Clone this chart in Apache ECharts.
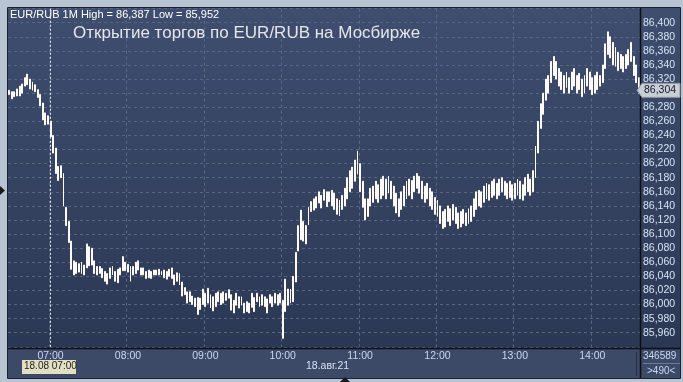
<!DOCTYPE html>
<html><head><meta charset="utf-8">
<script src="https://cdn.jsdelivr.net/npm/echarts@6/dist/echarts.min.js"></script>
<style>html,body{margin:0;padding:0;background:#b9c4d2;}#c{width:683px;height:382px;}</style>
</head><body><div id="c"></div>
<script>
// price = BASE + pips/1000
const BASE = 86;
const lastPrice = 86.304;
const headerText = 'EUR/RUB 1M High = 86,387 Low = 85,952';
const titleText = 'Открытие торгов по EUR/RUB на Мосбирже';
const volumeText = '346589';
const barsText = '>490<';
const dateText = '18.авг.21';
const cursorText = '18.08 07:00';
const cursorTime = '07:00';

// 2-minute bars from 06:28 to 14:36 (lows / highs in thousandths above 86)
const lowPips = [
 298,292,295,296,296,300,310,312,306,304,302,294,282,262,255,256,
 238,215,186,176,180,140,112,88,50,42,44,46,44,42,52,55,56,44,42,44,38,33,29,37,42,33,31,42,48,48,
 46,33,42,44,49,42,42,37,38,37,42,42,42,42,38,36,40,37,28,33,28,12,14,2,4,0,-3,-14,-7,0,
 -3,2,-5,-9,-3,4,0,2,6,9,-8,-12,-1,-5,-1,-12,-10,-12,-4,-10,4,-3,-1,-3,-12,2,-3,2,-1,2,
 -48,-10,-1,2,4,32,76,92,90,86,113,132,134,137,144,137,148,139,146,140,135,128,126,135,140,150,160,165,175,185,
 160,138,120,125,140,145,150,145,150,155,150,158,150,140,130,125,135,140,150,155,150,160,165,158,150,145,150,140,135,128,
 125,115,108,110,118,112,120,115,108,110,115,112,115,118,125,135,140,138,145,150,148,152,155,150,155,160,155,150,152,148,
 150,155,150,148,155,160,155,160,180,215,250,270,290,300,315,325,320,310,305,300,308,300,305,310,300,305,295,300,310,305,
 298,300,305,310,315,335,355,350,340,338,332,335,330,335,340,345,325,315,300
];
const highPips = [
 304,302,302,306,310,313,322,327,320,316,312,305,298,286,272,268,
 260,240,222,196,197,186,138,118,90,62,60,58,60,56,86,82,80,62,54,54,51,47,44,52,54,47,50,52,68,60,
 57,54,54,60,62,52,52,47,49,47,49,49,50,47,49,47,50,52,42,45,44,32,24,18,18,12,9,10,9,22,
 16,23,14,11,16,18,16,18,16,21,14,6,16,11,11,2,4,2,16,10,16,11,14,11,8,14,11,16,14,16,
 6,36,22,22,40,74,112,134,118,112,138,146,150,153,160,155,163,160,160,162,158,150,148,155,165,180,190,195,205,218,
 200,175,150,150,165,168,175,170,178,182,178,182,175,168,158,150,160,168,175,178,176,182,186,182,175,168,172,165,160,152,
 148,140,132,135,140,136,142,138,130,132,135,130,136,140,150,160,162,160,168,172,170,175,178,172,178,180,175,172,175,170,
 172,178,175,170,180,185,178,190,225,260,285,300,320,325,345,352,345,335,330,325,330,322,330,335,325,328,320,325,335,330,
 322,325,330,325,340,370,387,380,372,365,358,355,352,355,362,372,352,340,322
];

const times = [];
for (let m = 6 * 60 + 28; m <= 14 * 60 + 36; m += 2) {
  times.push(String(Math.floor(m / 60)).padStart(2, '0') + ':' + String(m % 60).padStart(2, '0'));
}
const candles = lowPips.map((l, i) => {
  const lo = +(BASE + l / 1000).toFixed(3), hi = +(BASE + highPips[i] / 1000).toFixed(3);
  return [lo, hi, lo, hi];
});

const FONT = 'Arial, "Liberation Sans", sans-serif';
const isHour = (i, v) => /:00$/.test(v);

const chart = echarts.init(document.getElementById('c'), null, {renderer: 'canvas'});
const bg = new echarts.graphic.LinearGradient(0, 0, 0, 1, [
  {offset: 0, color: '#3f4e6f'}, {offset: 1, color: '#2b3854'}
]);
chart.setOption({
  backgroundColor: '#b9c4d2',
  animation: false,
  grid: {left: 8, right: 43, top: 8.6, bottom: 35.2, containLabel: false},
  xAxis: {
    type: 'category', data: times, boundaryGap: true,
    axisLine: {show: false}, axisTick: {show: false},
    axisLabel: {interval: isHour, color: '#c9d8ef', fontSize: 10.5, fontFamily: FONT, margin: 4},
    splitLine: {show: true, interval: isHour, lineStyle: {color: '#5a6985', type: [3, 3], width: 1}}
  },
  yAxis: {
    type: 'value', position: 'right', min: 85.94, max: 86.42, interval: 0.02, scale: true,
    axisLine: {show: false}, axisTick: {show: false},
    axisLabel: {
      formatter: v => v.toFixed(3).replace('.', ','), color: '#d6e3f5', fontSize: 10.5, fontFamily: FONT,
      margin: 3, showMinLabel: false, showMaxLabel: false
    },
    splitLine: {lineStyle: {color: '#56667f', type: [3, 3], width: 1}}
  },
  series: [{
    type: 'candlestick', data: candles, barWidth: 1.4,
    itemStyle: {color: '#ffffff', color0: '#ffffff', borderColor: '#fffaf4', borderColor0: '#fffaf4', borderWidth: 1},
    markLine: {
      silent: true, symbol: 'none', label: {show: false},
      lineStyle: {color: '#e8ecf4', type: [2, 2], width: 1},
      data: [{xAxis: cursorTime}]
    }
  }]
});

const py = chart.convertToPixel({yAxisIndex: 0}, lastPrice);
chart.setOption({
  graphic: [
    {type: 'rect', z: -100, shape: {x: 8, y: 8, width: 672, height: 340}, style: {fill: bg}},
    {type: 'rect', z: -99, shape: {x: 8, y: 348, width: 672, height: 30}, style: {fill: '#3c4967'}},
    {type: 'rect', z: 50, shape: {x: 7.5, y: 7.5, width: 673, height: 371}, style: {fill: null, stroke: '#1b2130', lineWidth: 1}},
    {type: 'line', z: 50, shape: {x1: 640.5, y1: 8, x2: 640.5, y2: 378}, style: {stroke: '#0c0f16', lineWidth: 1.5}},
    {type: 'line', z: 50, shape: {x1: 8, y1: 348.5, x2: 680, y2: 348.5}, style: {stroke: '#0c0f16', lineWidth: 1.5}},
    {type: 'line', z: 50, shape: {x1: 636.5, y1: 352, x2: 636.5, y2: 376}, style: {stroke: '#252d40', lineWidth: 1}},
    {type: 'line', z: 50, shape: {x1: 643, y1: 363.5, x2: 680, y2: 363.5}, style: {stroke: '#6c7a96', lineWidth: 1}},
    {type: 'text', z: 60, left: 10, top: 9, style: {text: headerText, fill: '#ffffff', font: '11px ' + FONT}},
    {type: 'text', z: 60, left: 73, top: 25, style: {text: titleText, fill: '#e4e6ea', font: '17px ' + FONT}},
    {type: 'polygon', z: 70, shape: {points: [[637, py], [642, py - 7], [680, py - 7], [680, py + 7], [642, py + 7]]},
      style: {fill: '#c9ced6', stroke: '#8e96a4', lineWidth: 1}},
    {type: 'text', z: 71, left: 644, top: py - 6, style: {text: lastPrice.toFixed(3).replace('.', ','), fill: '#141a28', font: '10.5px ' + FONT}},
    {type: 'rect', z: 70, shape: {x: 22, y: 360, width: 54, height: 14}, style: {fill: '#e2dfc2'}},
    {type: 'text', z: 71, left: 24, top: 361.5, style: {text: cursorText, fill: '#1c1c1c', font: '10px ' + FONT}},
    {type: 'text', z: 60, left: 306, top: 361, style: {text: dateText, fill: '#d6e1f2', font: '10.5px ' + FONT}},
    {type: 'text', z: 60, left: 643, top: 351, style: {text: volumeText, fill: '#c9d8ef', font: '10px ' + FONT}},
    {type: 'text', z: 60, left: 647, top: 366, style: {text: barsText, fill: '#c9d8ef', font: '10px ' + FONT}},
    {type: 'polygon', z: 60, shape: {points: [[0, 186], [5, 190.5], [0, 195]]}, style: {fill: '#1a1a1a'}},
    {type: 'polygon', z: 60, shape: {points: [[340, 382], [345, 377], [350, 382]]}, style: {fill: '#1a1a1a'}}
  ]
});
</script>
</body></html>
